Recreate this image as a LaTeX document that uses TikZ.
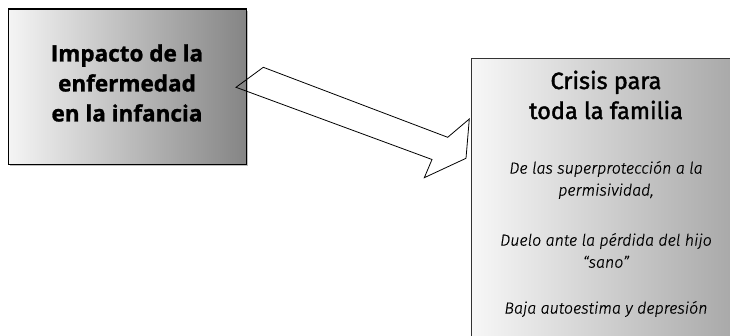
\documentclass[tikz,border=0pt]{standalone}
\usepackage{fontspec}
\setmainfont{Open Sans}[BoldFeatures={FakeBold=1.2}]
\newfontfamily\bodyfont{Fira Sans Light}[ItalicFont={Fira Sans Light Italic},ItalicFeatures={FakeBold=0.6}]
\newfontfamily\titlefont{Fira Sans}[FakeBold=1.6]
\begin{document}
\begin{tikzpicture}[x=1pt,y=-1pt,
  shadowbox/.style={fill=black!25, draw=none, inner sep=0pt, anchor=north west},
  leftpanel/.style={draw=black, line width=1.1pt, left color=white!96!black, right color=black!48, inner sep=0pt, anchor=north west, minimum width=238.5, minimum height=155.5},
  rightpanel/.style={draw=black!80, line width=0.9pt, left color=white!97!black, right color=black!35, inner sep=0pt, anchor=north west, minimum width=272, minimum height=290},
  titlebold/.style={font=\fontsize{22.5}{30}\selectfont\bfseries, align=center, text=black, inner sep=0pt},
  titlereg/.style={font=\titlefont\fontsize{23.5}{30}\selectfont, align=center, text=black, inner sep=0pt},
  bodytext/.style={font=\bodyfont\itshape\fontsize{16}{22}\selectfont, align=center, text=black, inner sep=0pt},
  arrowline/.style={draw=black, line width=0.8pt, line join=miter}
]
\useasboundingbox (0,0) rectangle (730,336);
\fill[white] (0,0) rectangle (730,336);
% shadow of left panel
\node[shadowbox, minimum width=238.5, minimum height=155.5] (leftshadow) at (9.5,10.5) {};
\node[leftpanel] (leftbox) at (7.5,8.5) {};
\node[titlebold] (lefttext) at (127,83) {Impacto de la\\enfermedad\\en la infancia};
% right panel
\node[rightpanel] (rightbox) at (470.5,58) {};
\node[titlereg] (righttitle) at (606,95) {Crisis para\\toda la familia};
\node[bodytext] (body1) at (606,180) {De las superprotección a la\\permisividad,};
\node[bodytext] (body2) at (606,250.5) {Duelo ante la pérdida del hijo\\“sano”};
\node[bodytext] (body3) at (606,309) {Baja autoestima y depresión};
% block arrow
\coordinate (a1) at (236,87.3);
\coordinate (a2) at (263.3,67.3);
\coordinate (a3) at (447.7,137.3);
\coordinate (a4) at (469.3,119);
\coordinate (a5) at (466,158.3);
\coordinate (a6) at (424.3,177.7);
\coordinate (a7) at (432,159.5);
\draw[arrowline] (a1) -- (a2) -- (a3) -- (a4) -- (a5) -- (a6) -- (a7) -- cycle;
\end{tikzpicture}
\end{document}
